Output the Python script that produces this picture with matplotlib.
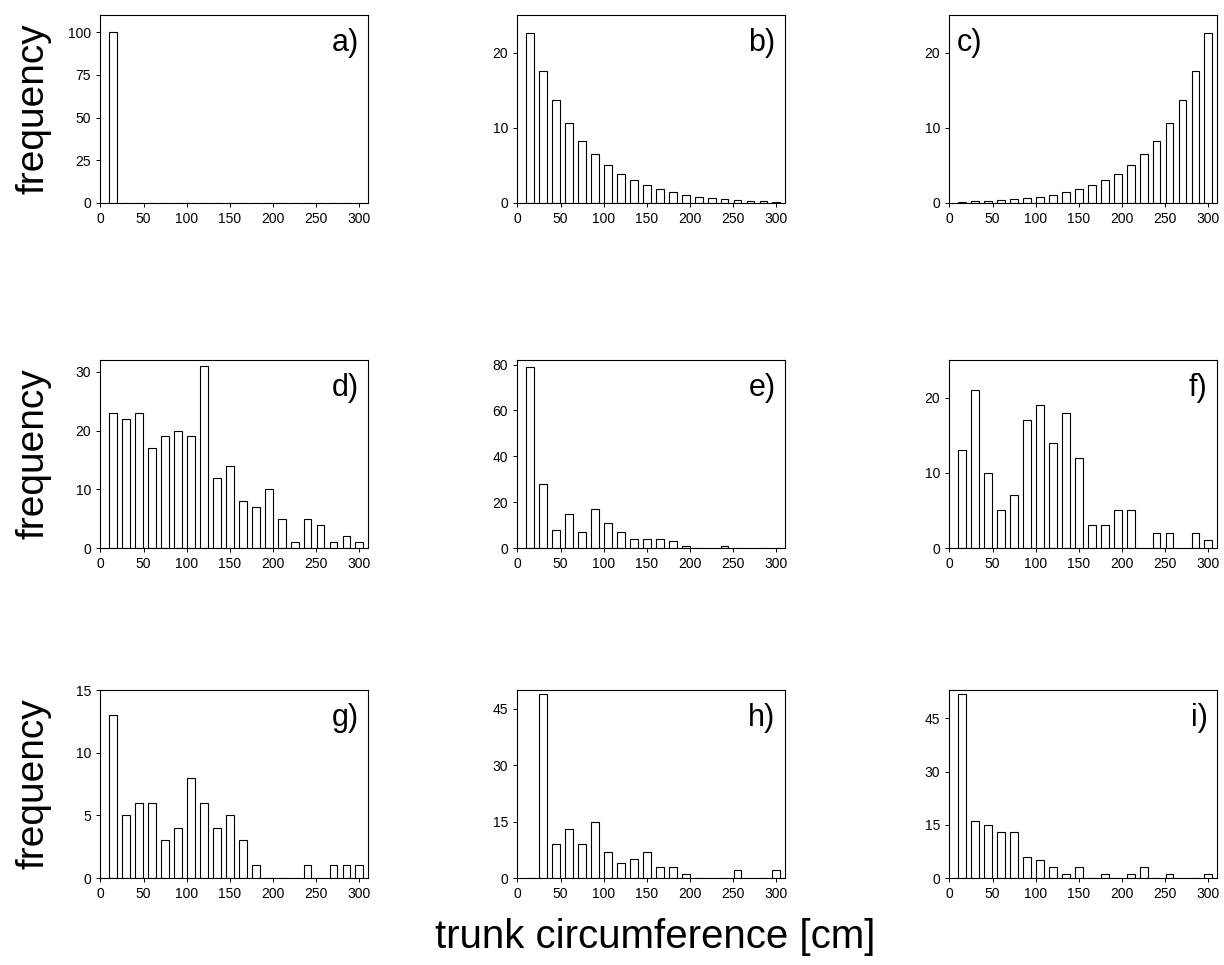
import numpy as np
import matplotlib.pyplot as plt

plt.rcParams['font.family'] = ['Liberation Sans', 'DejaVu Sans']

# classes de circunferencia (cm)
classes = [15, 30, 45, 60, 75, 90, 105, 120, 135, 150,
           165, 180, 195, 210, 225, 240, 255, 270, 285, 300]

freq_a = [100, 0, 0, 0, 0, 0, 0, 0, 0, 0, 0, 0, 0, 0, 0, 0, 0, 0, 0, 0]
freq_b = [22.6, 17.6, 13.7, 10.7, 8.3, 6.5, 5.0, 3.9, 3.0, 2.4,
          1.8, 1.4, 1.1, 0.8, 0.6, 0.5, 0.35, 0.3, 0.2, 0.1]
freq_c = [0.1, 0.2, 0.3, 0.35, 0.5, 0.6, 0.8, 1.1, 1.4, 1.8,
          2.4, 3.0, 3.9, 5.0, 6.5, 8.3, 10.7, 13.7, 17.6, 22.6]
freq_d = [23, 22, 23, 17, 19, 20, 19, 31, 12, 14, 8, 7, 10, 5, 1, 5, 4, 1, 2, 1]
freq_e = [79, 28, 8, 15, 7, 17, 11, 7, 4, 4, 4, 3, 1, 0, 0, 1, 0, 0, 0, 0]
freq_f = [13, 21, 10, 5, 7, 17, 19, 14, 18, 12, 3, 3, 5, 5, 0, 2, 2, 0, 2, 1]
freq_g = [13, 5, 6, 6, 3, 4, 8, 6, 4, 5, 3, 1, 0, 0, 0, 1, 0, 1, 1, 1]
freq_h = [0, 49, 9, 13, 9, 15, 7, 4, 5, 7, 3, 3, 1, 0, 0, 0, 2, 0, 0, 2]
freq_i = [52, 16, 15, 13, 13, 6, 5, 3, 1, 3, 0, 1, 0, 1, 3, 0, 1, 0, 0, 1]

rotulos = ['a)', 'b)', 'c)', 'd)', 'e)', 'f)', 'g)', 'h)', 'i)']
dados = [freq_a, freq_b, freq_c, freq_d, freq_e, freq_f, freq_g, freq_h, freq_i]
ylims = [110, 25, 25, 32, 82, 25, 15, 50, 53]
yticks = [[0, 25, 50, 75, 100], [0, 10, 20], [0, 10, 20],
          [0, 10, 20, 30], [0, 20, 40, 60, 80], [0, 10, 20],
          [0, 5, 10, 15], [0, 15, 30, 45], [0, 15, 30, 45]]

W, H = 1224, 965
fig = plt.figure(figsize=(W/100, H/100), dpi=100)

lefts = [100, 517, 949]
tops = [15, 360, 690]
larg, alt = 268, 188

for k in range(9):
    lin, col = k // 3, k % 3
    ax = fig.add_axes([lefts[col]/W, 1 - (tops[lin] + alt)/H, larg/W, alt/H])
    ax.bar(classes, dados[k], width=9, color='white', edgecolor='black', linewidth=0.8)
    ax.set_xlim(-0.5, 310)
    ax.set_ylim(0, ylims[k])
    ax.set_xticks([0, 50, 100, 150, 200, 250, 300])
    ax.set_yticks(yticks[k])
    ax.tick_params(labelsize=10, length=3, width=0.7)
    for s in ax.spines.values():
        s.set_linewidth(0.8)
    if k == 2:
        ax.text(0.03, 0.85, rotulos[k], transform=ax.transAxes, fontsize=22, ha='left', va='center')
    else:
        ax.text(0.965, 0.85, rotulos[k], transform=ax.transAxes, fontsize=22, ha='right', va='center')

for lin in range(3):
    yc = 1 - (tops[lin] + alt/2)/H
    fig.text(33/W, yc, 'frequency', rotation=90, fontsize=28, ha='center', va='center')

fig.text(655/W, 1 - 937/H, 'trunk circumference [cm]', fontsize=29, ha='center', va='center')

plt.savefig('out.png', dpi=100)
plt.close(fig)
